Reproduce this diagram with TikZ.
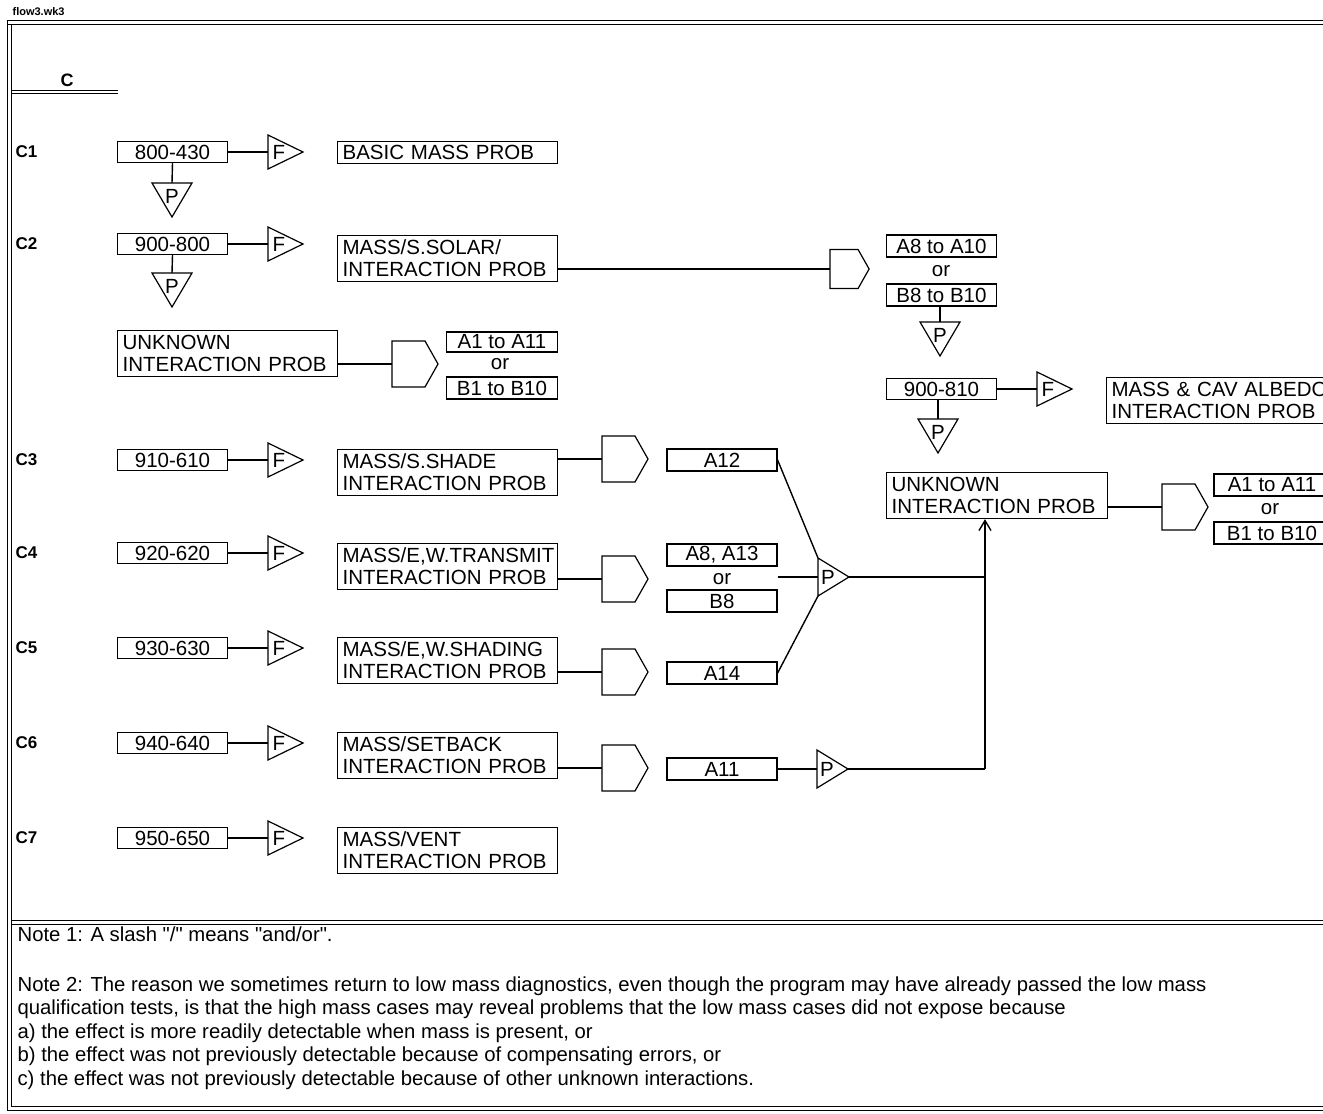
\documentclass[tikz,border=0pt]{standalone}
\usepackage{fontspec}
\setmainfont{Liberation Sans}[Ligatures=TeXOff]
\usetikzlibrary{arrows.meta,calc}
\newcommand\bxfont{\fontsize{20.5}{22}\selectfont}
\newcommand\ntfont{\fontsize{20.3}{23.5}\selectfont}
\begin{document}
\begin{tikzpicture}[x=1pt,y=-1pt,line width=1.2pt,
  numbox/.style={draw, minimum width=110pt, minimum height=21pt, inner sep=0pt, font=\bxfont},
  refbox/.style={draw, minimum width=110pt, minimum height=22pt, inner sep=0pt, font=\bxfont},
  probbox/.style={draw, anchor=north west, text width=210pt, align=left, inner xsep=5pt, inner ysep=2pt, minimum height=46pt, font=\bxfont},
  orlabel/.style={inner sep=0pt, font=\bxfont},
  rowlabel/.style={anchor=west, inner sep=0pt, font=\fontsize{17}{19}\selectfont\bfseries},
  notetext/.style={anchor=base west, inner sep=0pt, font=\ntfont},
  conn/.style={line width=1.4pt},
  frame/.style={line width=1pt},
  pics/ftri/.style={code={
    \coordinate (-in) at (0,0);
    \draw (0,-17) -- (35,0) -- (0,17) -- cycle;
    \node[font=\bxfont,inner sep=0pt] at (11,0) {F};
  }},
  pics/pdown/.style={code={
    \coordinate (-in) at (0,0);
    \draw (-20,0) -- (20,0) -- (0,34) -- cycle;
    \node[font=\bxfont,inner sep=0pt] at (0,13) {P};
  }},
  pics/pright/.style={code={
    \coordinate (-in) at (0,0);
    \coordinate (-top) at (0,-19);
    \coordinate (-bot) at (0,19);
    \coordinate (-tip) at (31,0);
    \draw (0,-19) -- (31,0) -- (0,19) -- cycle;
    \node[font=\bxfont,inner sep=0pt] at (10,0) {P};
  }},
  pics/gotag/.style={code={
    \coordinate (-in) at (0,0);
    \draw (0,-23) -- (33,-23) -- (46,0) -- (33,23) -- (0,23) -- cycle;
  }}
]
\useasboundingbox (0,0) rectangle (1323,1114);
\clip (0,0) rectangle (1323,1114);
\fill[white] (0,0) rectangle (1323,1114);

% frame
\node[anchor=west, inner sep=0pt, font=\fontsize{11}{12}\selectfont\bfseries] (fname) at (12,12) {flow3.wk3};
\draw[frame] (8,20) -- (1330,20);
\draw[frame] (8,24) -- (1330,24);
\draw[frame] (7,20) -- (7,1110);
\draw[frame] (11,24) -- (11,1106);
\draw[frame] (7,1110) -- (1330,1110);
\draw[frame] (11,1106) -- (1330,1106);
\draw[frame] (11,920) -- (1330,920);
\draw[frame] (11,924) -- (1330,924);
\node[inner sep=0pt, font=\fontsize{18}{20}\selectfont\bfseries] (chead) at (67,80) {C};
\draw[frame] (11,90) -- (118,90);
\draw[frame] (11,93) -- (118,93);

% row labels
\node[rowlabel] (lc1) at (15,152) {C1};
\node[rowlabel] (lc2) at (15,244) {C2};
\node[rowlabel] (lc3) at (15,460) {C3};
\node[rowlabel] (lc4) at (15,553) {C4};
\node[rowlabel] (lc5) at (15,648) {C5};
\node[rowlabel] (lc6) at (15,743) {C6};
\node[rowlabel] (lc7) at (15,838) {C7};

% C1
\node[numbox] (n1) at (172.5,152) {800-430};
\pic (f1) at (268,152) {ftri};
\node[probbox, minimum height=22pt] (b1) at (337,141) {BASIC MASS PROB};
\pic (p1) at (172,183) {pdown};
\draw[conn] (n1.east) -- (f1-in);
\draw[conn] (n1.south) -- (p1-in);

% C2
\node[numbox] (n2) at (172.5,244) {900-800};
\pic (f2) at (268,244) {ftri};
\node[probbox] (b2) at (337,235) {MASS/S.SOLAR/\\INTERACTION PROB};
\pic (p2) at (172,273) {pdown};
\draw[conn] (n2.east) -- (f2-in);
\draw[conn] (n2.south) -- (p2-in);
\pic[scale=0.85] (g2) at (830,269) {gotag};
\draw[conn] (b2.east |- g2-in) -- (g2-in);
\node[refbox] (r2a) at (941.5,246) {A8 to A10};
\node[orlabel] (or2) at (941,271) {or};
\node[refbox] (r2b) at (941.5,295) {B8 to B10};
\pic (p2r) at (940,322) {pdown};
\draw[conn] (r2b.south -| p2r-in) -- (p2r-in);
\node[numbox] (n2r) at (941.5,389) {900-810};
\pic (f2r) at (1037,389) {ftri};
\draw[conn] (n2r.east) -- (f2r-in);
\node[probbox, text width=228pt] (b2r) at (1106,377) {MASS \& CAV ALBEDO\\INTERACTION PROB};
\pic (p2r2) at (938,419) {pdown};
\draw[conn] (n2r.south -| p2r2-in) -- (p2r2-in);
\node[probbox, text width=211pt] (unkR) at (886,472) {UNKNOWN\\INTERACTION PROB};
\pic (gR) at (1162,507) {gotag};
\draw[conn] (unkR.east |- gR-in) -- (gR-in);
\node[refbox, minimum width=116pt] (rRa) at (1272,485) {A1 to A11};
\node[orlabel] (orR) at (1270,509) {or};
\node[refbox, minimum width=116pt] (rRb) at (1272,533) {B1 to B10};

% left unknown
\node[probbox] (unkL) at (117,330) {UNKNOWN\\INTERACTION PROB};
\pic (gL) at (392,364) {gotag};
\draw[conn] (unkL.east |- gL-in) -- (gL-in);
\node[refbox, minimum width=111pt, minimum height=20pt] (rLa) at (502,342) {A1 to A11};
\node[orlabel] (orL) at (500,364) {or};
\node[refbox, minimum width=111pt] (rLb) at (502,388) {B1 to B10};

% C3
\node[numbox] (n3) at (172.5,460) {910-610};
\pic (f3) at (268,460) {ftri};
\draw[conn] (n3.east) -- (f3-in);
\node[probbox] (b3) at (337,449) {MASS/S.SHADE\\INTERACTION PROB};
\pic (g3) at (602,459) {gotag};
\draw[conn] (b3.east |- g3-in) -- (g3-in);
\node[refbox] (r3) at (722,460) {A12};

% C4
\node[numbox] (n4) at (172.5,553) {920-620};
\pic (f4) at (268,553) {ftri};
\draw[conn] (n4.east) -- (f4-in);
\node[probbox] (b4) at (337,543) {MASS/E,W.TRANSMIT\\INTERACTION PROB};
\pic (g4) at (602,579) {gotag};
\draw[conn] (b4.east |- g4-in) -- (g4-in);
\node[refbox] (r4a) at (722,555) {A8, A13};
\node[orlabel] (or4) at (722,579) {or};
\node[refbox] (r4b) at (722,601) {B8};
\pic (pm) at (818,577) {pright};

% C5
\node[numbox] (n5) at (172.5,648) {930-630};
\pic (f5) at (268,648) {ftri};
\draw[conn] (n5.east) -- (f5-in);
\node[probbox] (b5) at (337,637) {MASS/E,W.SHADING\\INTERACTION PROB};
\pic (g5) at (602,672) {gotag};
\draw[conn] (b5.east |- g5-in) -- (g5-in);
\node[refbox] (r5) at (722,673) {A14};

% C6
\node[numbox] (n6) at (172.5,743) {940-640};
\pic (f6) at (268,743) {ftri};
\draw[conn] (n6.east) -- (f6-in);
\node[probbox] (b6) at (337,732) {MASS/SETBACK\\INTERACTION PROB};
\pic (g6) at (602,768) {gotag};
\draw[conn] (b6.east |- g6-in) -- (g6-in);
\node[refbox] (r6) at (722,769) {A11};
\pic (p6) at (817,769) {pright};

% C7
\node[numbox] (n7) at (172.5,838) {950-650};
\pic (f7) at (268,838) {ftri};
\draw[conn] (n7.east) -- (f7-in);
\node[probbox] (b7) at (337,827) {MASS/VENT\\INTERACTION PROB};

% merge connectors
\coordinate (bus) at (985,769);
\draw[conn] (r3.east) -- (pm-top);
\draw[conn] (r5.east) -- (pm-bot);
\draw[conn] (r4a.east |- pm-in) -- (pm-in);
\draw[conn] (pm-tip) -- (pm-tip -| bus);
\draw[conn] (r6.east) -- (p6-in);
\draw[conn] (p6-tip) -- (bus);
\draw[conn, -{Straight Barb[length=10pt,width=12pt,line width=1.4pt]}] (bus) -- (bus |- unkR.south);

% notes
\node[notetext] (note1) at (17,941) {Note 1: A slash "/" means "and/or".};
\node[notetext] (note2) at (17,991) {Note 2: The reason we sometimes return to low mass diagnostics, even though the program may have already passed the low mass};
\node[notetext] (note3) at (17,1014) {qualification tests, is that the high mass cases may reveal problems that the low mass cases did not expose because};
\node[notetext] (note4) at (17,1038) {a) the effect is more readily detectable when mass is present, or};
\node[notetext] (note5) at (17,1061) {b) the effect was not previously detectable because of compensating errors, or};
\node[notetext] (note6) at (17,1085) {c) the effect was not previously detectable because of other unknown interactions.};
\end{tikzpicture}
\end{document}
